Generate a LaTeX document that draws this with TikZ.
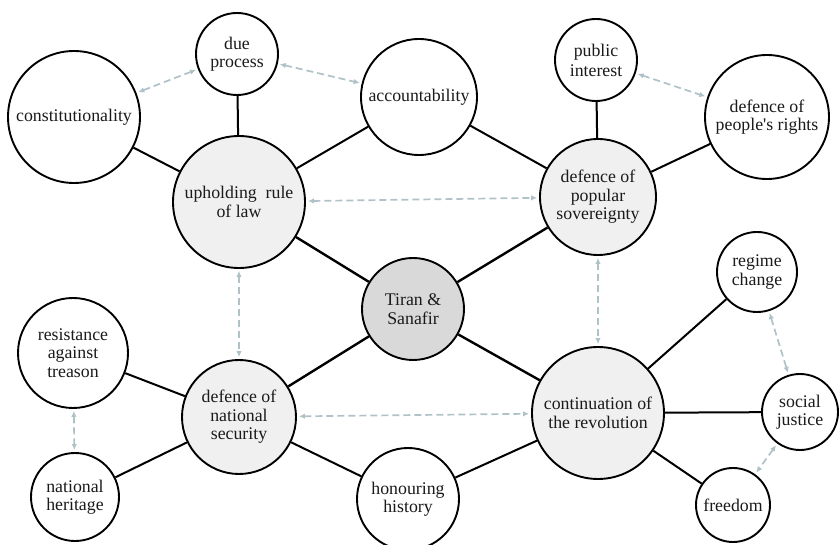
\documentclass[tikz,border=0pt]{standalone}
\usepackage{fontspec}
\setmainfont{Liberation Serif}
\usetikzlibrary{arrows.meta}
\definecolor{hubfill}{HTML}{D9D9D9}
\definecolor{midfill}{HTML}{F0F0F0}
\definecolor{linkgray}{HTML}{AFC2C8}
\definecolor{inkcol}{HTML}{1A1A1A}
\begin{document}
\begin{tikzpicture}[x=1pt,y=-1pt,
  bubble/.style={circle,draw=black,line width=1.9pt,inner sep=0pt,align=center,
    text=inkcol,font=\fontsize{17.8}{18.5}\selectfont},
  hub/.style={bubble,fill=hubfill},
  mid/.style={bubble,fill=midfill},
  leaf/.style={bubble,fill=white},
  spoke/.style={line width=2.4pt},
  twig/.style={line width=2pt},
  relation/.style={draw=linkgray,line width=1.7pt,dash pattern=on 7pt off 4pt,
    {Latex[length=6pt,width=5.5pt]}-{Latex[length=6pt,width=5.5pt]},
    shorten <=2pt,shorten >=2pt}]
\useasboundingbox (0,0) rectangle (839,545);

% central topic
\node[hub,minimum size=102pt] (tiran) at (413,309) {Tiran \&\\Sanafir};

% main themes
\node[mid,minimum size=132pt] (rule) at (239,202) {upholding\ \ rule\\of law};
\node[mid,minimum size=116pt] (pop) at (598,197) {defence of\\popular\\sovereignty};
\node[mid,minimum size=114pt] (sec) at (239,417) {defence of\\national\\security};
\node[mid,minimum size=132pt] (rev) at (598,413) {continuation of\\the revolution};

% sub-themes
\node[leaf,minimum size=132pt] (const) at (74,117) {constitutionality};
\node[leaf,minimum size=82pt,font=\fontsize{17.8}{17.5}\selectfont] (due) at (237,54) {due\\process};
\node[leaf,minimum size=116pt] (acc) at (419,97) {accountability};
\node[leaf,minimum size=82pt,font=\fontsize{17.8}{20}\selectfont] (pub) at (596,60) {public\\interest};
\node[leaf,minimum size=124pt] (rights) at (767,117) {defence of\\people\textquotesingle s rights};
\node[leaf,minimum size=80pt] (regime) at (757,272) {regime\\change};
\node[leaf,minimum size=76pt] (social) at (800,412) {social\\justice};
\node[leaf,minimum size=74pt] (freedom) at (733,505) {freedom};
\node[leaf,minimum size=110pt] (resist) at (73,353) {resistance\\against\\treason};
\node[leaf,minimum size=88pt] (heritage) at (75,497) {national\\heritage};
\node[leaf,minimum size=102pt] (history) at (408,499) {honouring\\history};

% spokes from the centre
\draw[spoke] (tiran) -- (rule);
\draw[spoke] (tiran) -- (pop);
\draw[spoke] (tiran) -- (sec);
\draw[spoke] (tiran) -- (rev);

% theme to sub-theme links
\draw[twig] (rule) -- (const);
\draw[twig] (rule) -- (due);
\draw[twig] (rule) -- (acc);
\draw[twig] (pop) -- (acc);
\draw[twig] (pop) -- (pub);
\draw[twig] (pop) -- (rights);
\draw[twig] (sec) -- (resist);
\draw[twig] (sec) -- (heritage);
\draw[twig] (sec) -- (history);
\draw[twig] (rev) -- (history);
\draw[twig] (rev) -- (regime);
\draw[twig] (rev) -- (social);
\draw[twig] (rev) -- (freedom);

% mutual relations
\draw[relation] (const) -- (due);
\draw[relation] (due) -- (acc);
\draw[relation] (pub) -- (rights);
\draw[relation] (rule) -- (pop);
\draw[relation] (rule) -- (sec);
\draw[relation] (pop) -- (rev);
\draw[relation] (sec) -- (rev);
\draw[relation] (resist) -- (heritage);
\draw[relation] (regime) -- (social);
\draw[relation] (social) -- (freedom);
\end{tikzpicture}
\end{document}
